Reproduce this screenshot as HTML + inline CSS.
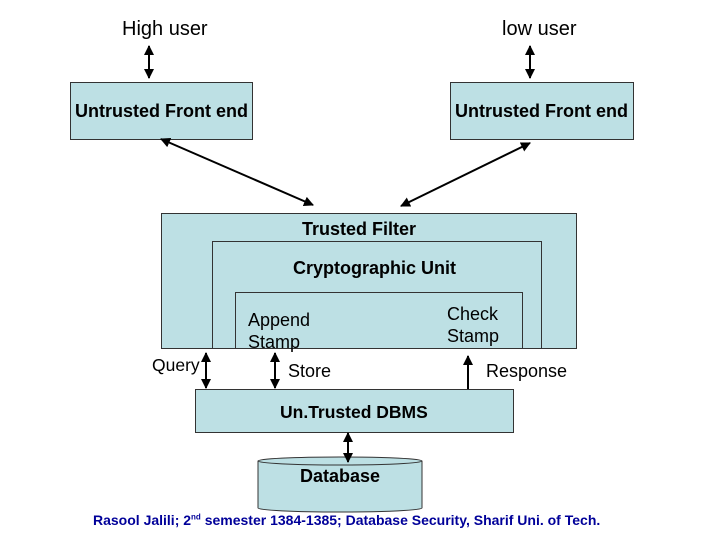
<!DOCTYPE html>
<html><head><style>
body{margin:0;width:720px;height:540px;background:#fff;position:relative;overflow:hidden;font-family:"Liberation Sans",Arial,sans-serif;}
.t{position:absolute;font-size:18px;color:#000;white-space:nowrap;}
.b{font-weight:bold;font-size:18px;}
</style></head><body>
<svg width="720" height="540" style="position:absolute;left:0;top:0">
<defs><marker id="a" viewBox="0 0 10 10" refX="9" refY="5" markerWidth="5" markerHeight="5" orient="auto-start-reverse"><path d="M0,0 L10,5 L0,10 z" fill="#000"/></marker></defs>
<g fill="#bde0e4" stroke="#333" stroke-width="1">
<rect x="70.5" y="82.5" width="182" height="57"/>
<rect x="450.5" y="82.5" width="183" height="57"/>
<rect x="161.5" y="213.5" width="415" height="135"/>
<rect x="212.5" y="241.5" width="329" height="107"/>
<rect x="235.5" y="292.5" width="287" height="56"/>
<rect x="195.5" y="389.5" width="318" height="43"/>
<path d="M258,461 L258,508 A82,4 0 0 0 422,508 L422,461"/>
<ellipse cx="340" cy="461" rx="82" ry="4"/>
</g>
<g stroke="#000" stroke-width="2" marker-start="url(#a)" marker-end="url(#a)">
<line x1="149" y1="46" x2="149" y2="78"/>
<line x1="530" y1="46" x2="530" y2="78"/>
<line x1="161" y1="139" x2="313" y2="205"/>
<line x1="530" y1="143" x2="401" y2="206"/>
<line x1="206" y1="353" x2="206" y2="388"/>
<line x1="275" y1="353" x2="275" y2="388"/>
<line x1="348" y1="433" x2="348" y2="462"/>
</g>
<line x1="468" y1="389" x2="468" y2="356" stroke="#000" stroke-width="2" marker-end="url(#a)"/>
</svg>
<div class="t" style="left:122px;top:18px;font-size:20px">High user</div>
<div class="t" style="left:502px;top:18px;font-size:20px">low user</div>
<div class="t b" style="left:75px;top:101px">Untrusted Front end</div>
<div class="t b" style="left:455px;top:101px">Untrusted Front end</div>
<div class="t b" style="left:302px;top:219px">Trusted Filter</div>
<div class="t b" style="left:293px;top:258px">Cryptographic Unit</div>
<div class="t" style="left:248px;top:309px;line-height:22px">Append<br>Stamp</div>
<div class="t" style="left:447px;top:303px;line-height:22px">Check<br>Stamp</div>
<div class="t" style="left:152px;top:355px;font-size:17.5px">Query</div>
<div class="t" style="left:288px;top:361px">Store</div>
<div class="t" style="left:486px;top:361px">Response</div>
<div class="t b" style="left:280px;top:402px;font-size:17.5px">Un.Trusted DBMS</div>
<div class="t b" style="left:300px;top:466px">Database</div>
<div class="t" style="left:93px;top:512px;font-size:14px;font-weight:bold;color:#000099">Rasool Jalili; 2<sup style="font-size:8px">nd</sup> semester 1384-1385; Database Security, Sharif Uni. of Tech.</div>
</body></html>
